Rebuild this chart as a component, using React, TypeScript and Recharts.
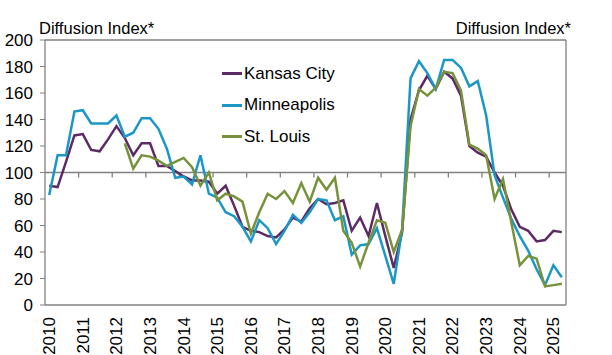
import { LineChart, Line, XAxis, YAxis, ReferenceLine, Legend } from 'recharts';

const years = ['2010', '2011', '2012', '2013', '2014', '2015', '2016', '2017', '2018', '2019', '2020', '2021', '2022', '2023', '2024', '2025'];

// quarterly, 2010 Q1 .. 2025 Q2
const kansasCity = [90, 89, 108, 128, 129, 117, 116, 125, 135, 126, 113, 122, 122, 105, 105, 101, 97, 94, 94, 93, 84, 90, 75, 59, 56, 55, 52, 51, 57, 66, 63, 73, 80, 76, 77, 79, 56, 66, 52, 77, 52, 28, 55, 140, 162, 173, 163, 176, 171, 158, 120, 115, 112, 100, 90, 72, 59, 56, 48, 49, 56, 55];
const minneapolis = [83, 113, 113, 146, 147, 137, 137, 137, 143, 127, 130, 141, 141, 133, 118, 96, 97, 91, 113, 84, 81, 70, 67, 59, 48, 64, 58, 46, 56, 68, 62, 70, 80, 79, 64, 67, 38, 45, 46, 58, 37, 16, 57, 171, 184, 175, 163, 185, 185, 179, 165, 169, 143, 98, 81, 65, 52, 41, 27, 15, 30, 21];
const stLouis = [null, null, null, null, null, null, null, null, null, 122, 103, 113, 112, 109, 105, 108, 111, 104, 90, 100, 79, 84, 82, 78, 54, 70, 84, 80, 86, 77, 92, 78, 96, 87, 96, 56, 47, 29, 47, 64, 62, 40, 57, 135, 163, 158, 164, 176, 175, 162, 121, 118, 113, 80, 95, 62, 30, 37, 35, 14, 15, 16];

const yTicks = [0, 20, 40, 60, 80, 100, 120, 140, 160, 180, 200];

const FONT = '"Liberation Sans", Arial, sans-serif';
const AXIS = '#808080';

const data = kansasCity.map((v, i) => ({
  x: i + 0.5,
  kc: v,
  mpls: minneapolis[i],
  stl: stLouis[i],
}));

const labelTicks = years.map((_, k) => k * 4 + 0.5);
const yearBounds = years.slice(1).map((_, k) => (k + 1) * 4);

const YearTick = ({ x, y, payload }: any) => {
  const k = Math.round((payload.value - 0.5) / 4);
  const ty = y + 10;
  return (
    <text
      x={x}
      y={ty}
      dy="0.35em"
      transform={`rotate(-90, ${x}, ${ty})`}
      textAnchor="end"
      fontSize={17}
      fontFamily={FONT}
      fill="#000"
    >
      {years[k]}
    </text>
  );
};

const LegendBox = ({ payload }: any) => (
  <div style={{ fontFamily: FONT, fontSize: 17, color: '#000' }}>
    {(payload || []).map((p: any) => (
      <div key={p.value} style={{ display: 'flex', alignItems: 'center', height: 31.5 }}>
        <span style={{ display: 'inline-block', width: 20, height: 3, background: p.color, marginRight: 2 }} />
        <span>{p.value}</span>
      </div>
    ))}
  </div>
);

export default function App() {
  return (
    <div style={{ position: 'absolute', left: 0, top: 0, width: 612, height: 355, background: '#fff' }}>
      <LineChart width={612} height={355} data={data} margin={{ top: 40, right: 0, left: 0, bottom: 0 }}>
        <XAxis
          type="number"
          dataKey="x"
          domain={[0, 62]}
          ticks={labelTicks}
          interval={0}
          tick={<YearTick />}
          tickLine={false}
          tickSize={0}
          height={50}
          axisLine={{ stroke: AXIS, strokeWidth: 1.3 }}
        />
        <YAxis
          yAxisId="l"
          domain={[0, 200]}
          ticks={yTicks}
          width={45}
          tickSize={5}
          tickMargin={7}
          axisLine={{ stroke: AXIS, strokeWidth: 1.3 }}
          tickLine={{ stroke: AXIS }}
          tick={{ fill: '#000', fontSize: 17, fontFamily: FONT }}
        />
        <YAxis
          yAxisId="r"
          orientation="right"
          domain={[0, 200]}
          ticks={yTicks}
          width={46}
          tickSize={5}
          tickMargin={10}
          axisLine={{ stroke: AXIS, strokeWidth: 1.3 }}
          tickLine={{ stroke: AXIS }}
          tick={{ fill: '#000', fontSize: 17, fontFamily: FONT, textAnchor: 'start' }}
        />
        <ReferenceLine yAxisId="l" y={200} stroke={AXIS} strokeWidth={1.3} />
        <ReferenceLine yAxisId="l" y={100} stroke={AXIS} strokeWidth={1.3} />
        {yearBounds.map((b) => (
          <ReferenceLine
            key={b}
            yAxisId="l"
            segment={[{ x: b, y: 100 }, { x: b, y: 96.2 }]}
            stroke={AXIS}
            strokeWidth={1.3}
          />
        ))}
        <Legend
          layout="vertical"
          verticalAlign="middle"
          align="center"
          content={<LegendBox />}
          wrapperStyle={{ left: 222, top: 58, width: 150 }}
        />
        <Line yAxisId="l" type="linear" dataKey="kc" name="Kansas City" stroke="#5E2A66" strokeWidth={2.5} dot={false} isAnimationActive={false} />
        <Line yAxisId="l" type="linear" dataKey="mpls" name="Minneapolis" stroke="#1B97C6" strokeWidth={2.5} dot={false} isAnimationActive={false} />
        <Line yAxisId="l" type="linear" dataKey="stl" name="St. Louis" stroke="#76933C" strokeWidth={2.5} dot={false} isAnimationActive={false} />
      </LineChart>
      <svg width={612} height={355} style={{ position: 'absolute', left: 0, top: 0, pointerEvents: 'none' }}>
        <text x={39} y={34} fontSize={16.5} fontFamily={FONT} fill="#000">Diffusion Index*</text>
        <text x={571} y={34} fontSize={16.5} fontFamily={FONT} fill="#000" textAnchor="end">Diffusion Index*</text>
      </svg>
    </div>
  );
}
